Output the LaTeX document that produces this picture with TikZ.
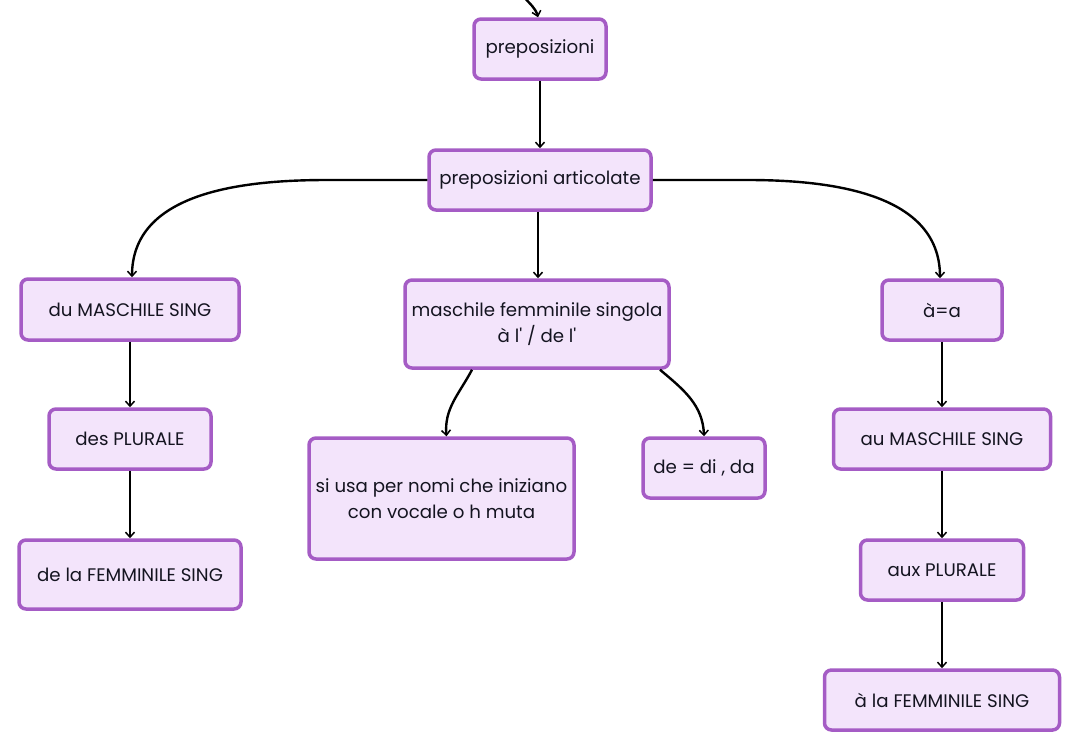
\documentclass[tikz,border=0pt]{standalone}
\usepackage{fontspec}
\setmainfont{Poppins}[Ligatures=TeXOff]
\usetikzlibrary{arrows.meta}
\definecolor{bordc}{HTML}{A55CC5}
\definecolor{fillc}{HTML}{F3E4FB}
\definecolor{txtc}{HTML}{141420}
\tikzset{
  box/.style={draw=bordc, fill=fillc, line width=3.5pt, rounded corners=7pt,
    text=txtc, font=\fontsize{18.2}{26}\selectfont, align=center, inner sep=0pt},
  conn/.style={line width=2.4pt, draw=black, -{Straight Barb[length=5pt,width=9pt,line width=1.5pt]}}
}
\begin{document}
\begin{tikzpicture}[x=1pt,y=-1pt]
\useasboundingbox (0,0) rectangle (1081,750);
\node[box, minimum width=132, minimum height=60] (p) at (540,49) {preposizioni};
\node[box, minimum width=222, minimum height=60] (pa) at (540,180) {preposizioni articolate};
\node[box, minimum width=218, minimum height=61] (du) at (130,309.5) {du MASCHILE SING};
\node[box, minimum width=162, minimum height=60] (des) at (130,439) {des PLURALE};
\node[box, minimum width=222, minimum height=69] (dela) at (130,574.5) {de la FEMMINILE SING};
\node[box, minimum width=264, minimum height=88] (mf) at (537,324) {maschile femminile singola\\à l' / de l'};
\node[box, minimum width=265, minimum height=121] (si) at (441.5,498.5) {si usa per nomi che iniziano\\con vocale o h muta};
\node[box, minimum width=122, minimum height=60] (de) at (704,468) {de = di , da};
\node[box, minimum width=120, minimum height=60] (aa) at (942,310) {à=a};
\node[box, minimum width=217, minimum height=60] (au) at (942,439) {au MASCHILE SING};
\node[box, minimum width=163, minimum height=60] (aux) at (942,570) {aux PLURALE};
\node[box, minimum width=235, minimum height=60] (ala) at (942,700) {à la FEMMINILE SING};
\coordinate (top) at (524,-3);
\draw[conn] (top) to[out=-50,in=105] ([xshift=-2pt]p.north);
\draw[conn] (p.south) -- (pa.north);
\draw[conn] (pa.west) -- ++(-100,0) to[out=180,in=90] ([xshift=2pt]du.north);
\draw[conn] (pa.east) -- ++(95,0) to[out=0,in=90] ([xshift=-2pt]aa.north);
\draw[conn] ([xshift=-2pt]pa.south) -- ([xshift=-2pt]pa.south |- mf.north);
\draw[conn] (du.south) -- (des.north);
\draw[conn] (des.south) -- (dela.north);
\draw[conn] ([xshift=-65pt]mf.south) to[out=-118,in=95] ([xshift=5pt]si.north);
\draw[conn] ([xshift=123pt]mf.south) to[out=-40,in=92] (de.north);
\draw[conn] (aa.south) -- (au.north);
\draw[conn] (au.south) -- (aux.north);
\draw[conn] (aux.south) -- (ala.north);
\end{tikzpicture}
\end{document}
